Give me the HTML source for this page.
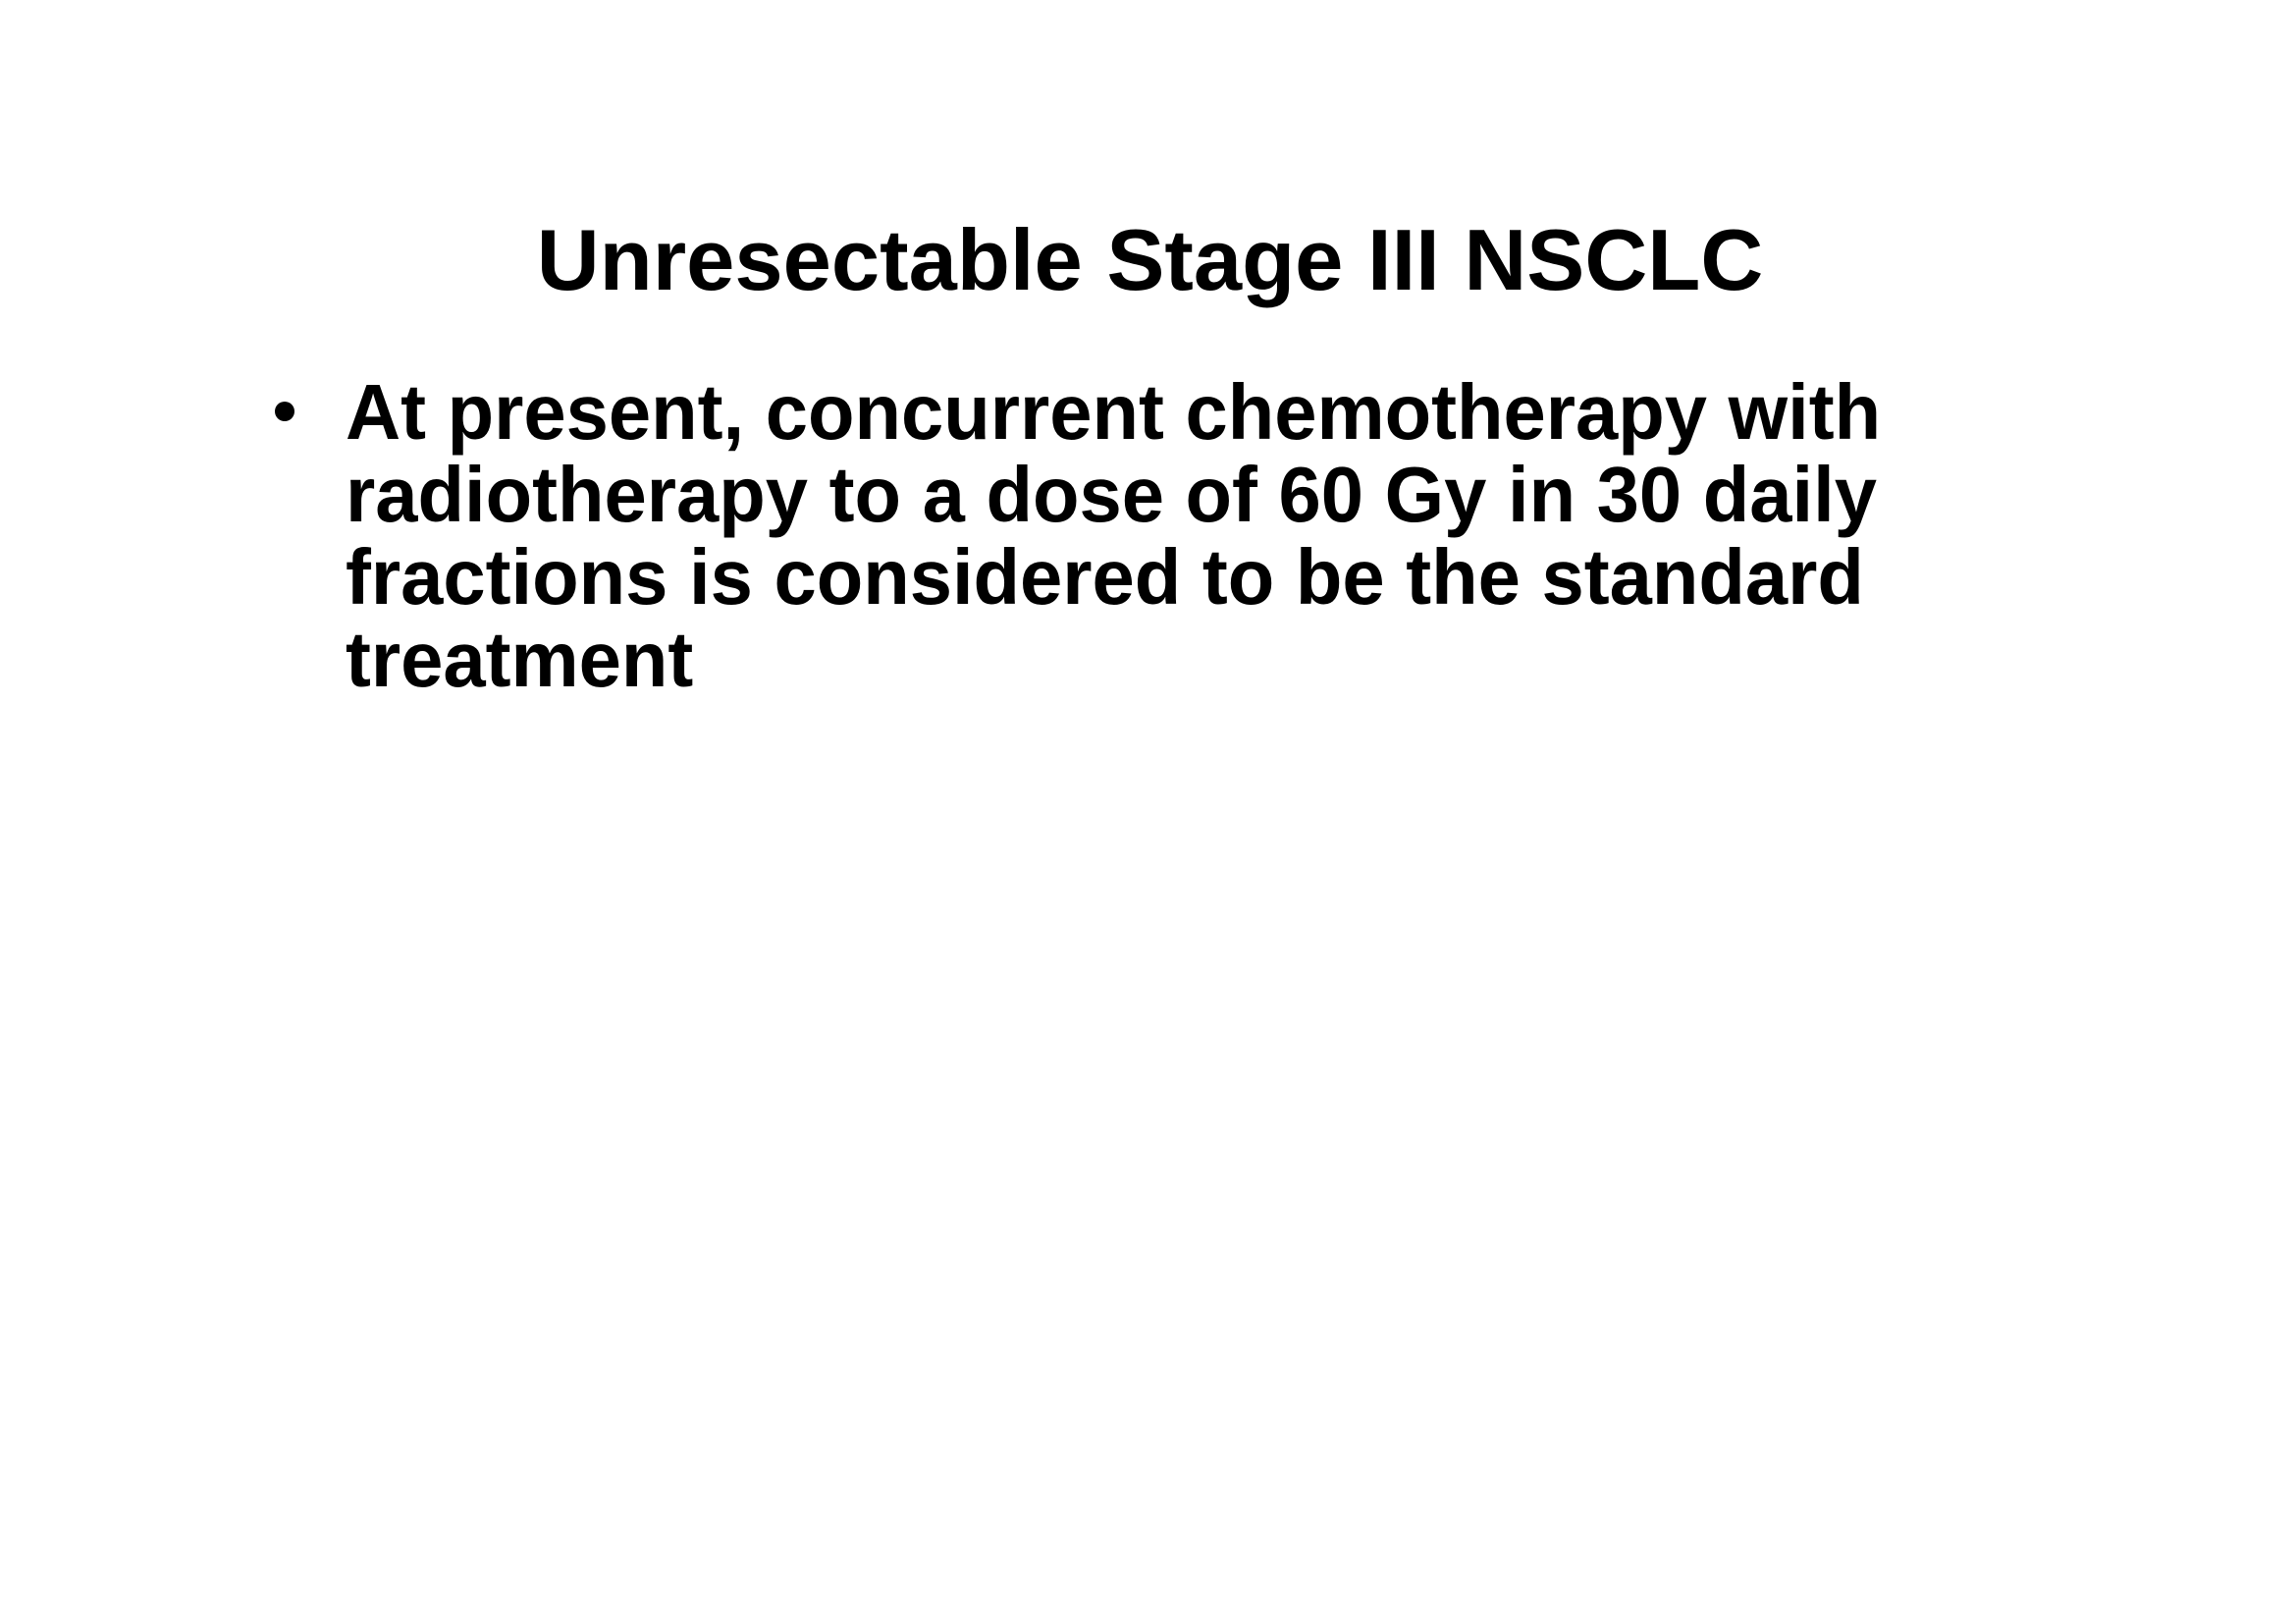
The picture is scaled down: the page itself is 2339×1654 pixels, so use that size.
<!DOCTYPE html>
<html><head><meta charset="utf-8"><style>
html,body{margin:0;padding:0;background:#fff;}
body{width:2339px;height:1654px;position:relative;overflow:hidden;font-family:"Liberation Sans",Arial,sans-serif;font-weight:bold;color:#000;}
.t{position:absolute;white-space:nowrap;}
#title{left:0;width:2343px;text-align:center;top:215px;font-size:88px;line-height:100px;transform:scaleX(1.006);transform-origin:1171px 0;}
.l{left:352px;font-size:80px;line-height:84px;transform:scaleX(0.972);transform-origin:0 0;}
#bullet{position:absolute;left:280px;top:409px;width:20px;height:20px;border-radius:50%;background:#000;}
</style></head><body>
<div id="title" class="t">Unresectable Stage III NSCLC</div>
<div id="bullet"></div>
<div class="t l" style="top:378px">At present, concurrent chemotherapy with</div>
<div class="t l" style="top:462px">radiotherapy to a dose of 60 Gy in 30 daily</div>
<div class="t l" style="top:546px">fractions is considered to be the standard</div>
<div class="t l" style="top:630px">treatment</div>
</body></html>
